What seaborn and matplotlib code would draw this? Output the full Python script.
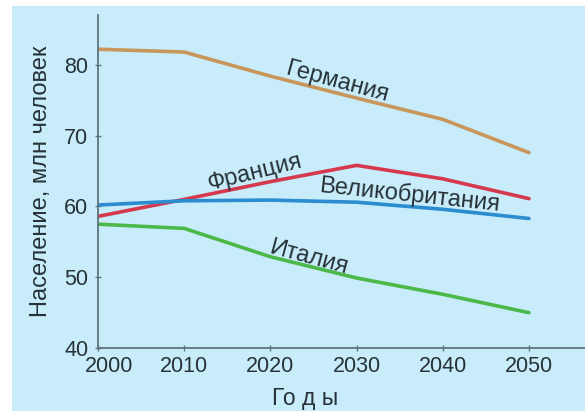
"""Население стран Европы, 2000-2050"""

import pandas as pd
import matplotlib
matplotlib.use("Agg")
import matplotlib.pyplot as plt
import matplotlib.transforms as mtransforms
import seaborn as sns

# data
years = [2000, 2010, 2020, 2030, 2040, 2050]
germany = [82.2, 81.8, 78.4, 75.3, 72.3, 67.6]
france = [58.6, 61.0, 63.5, 65.8, 63.9, 61.1]
britain = [60.2, 60.8, 60.9, 60.6, 59.6, 58.3]
italy = [57.5, 56.9, 52.9, 49.9, 47.6, 45.0]
countries = ["Германия", "Франция", "Великобритания", "Италия"]
y_ticks = [40, 50, 60, 70, 80]

colors = ["#c8965a", "#d6384e", "#2b8ccf", "#4cb848"]
bg = "#c9ecfa"
txt = "#263238"


def build_frame():
    rows = []
    for name, vals in zip(countries, [germany, france, britain, italy]):
        for yr, v in zip(years, vals):
            rows.append({"year": yr, "value": v, "country": name})
    return pd.DataFrame(rows)


if __name__ == "__main__":
    df = build_frame()

    sns.set_style("ticks")
    plt.rcParams["font.family"] = ["Liberation Sans", "DejaVu Sans"]

    fig = plt.figure(figsize=(5.85, 4.11), dpi=100)
    fig.patch.set_facecolor("white")
    # light blue panel with a thin white margin at top/left
    fig.patches.append(plt.Rectangle((0.02, 0), 0.98, 0.985, transform=fig.transFigure,
                                     facecolor=bg, edgecolor="none", zorder=-10))
    ax = fig.add_axes([0.1675, 0.153, 0.8325, 0.81])
    ax.set_facecolor(bg)

    sns.lineplot(data=df, x="year", y="value", hue="country",
                 palette=dict(zip(countries, colors)), linewidth=2.6,
                 legend=False, ax=ax)

    ax.set_xlim(2000, 2056.5)
    ax.set_ylim(40, 87)
    ax.set_xticks(years)
    ax.set_yticks(y_ticks)
    ax.tick_params(axis="both", labelsize=15.5, colors="#5d7380", labelcolor=txt,
                   direction="inout", length=4, width=1)
    ax.tick_params(axis="y", pad=5)
    sns.despine(ax=ax)
    for s in ["left", "bottom"]:
        ax.spines[s].set_color("#5d7380")
        ax.spines[s].set_linewidth(1.3)

    # first year label sits a bit to the right in the original
    first = ax.get_xticklabels()[0]
    first.set_transform(first.get_transform() +
                        mtransforms.ScaledTranslation(0.11, 0, fig.dpi_scale_trans))

    ax.set_xlabel("Го д ы", fontsize=16.5, color=txt)
    ax.xaxis.set_label_coords(0.425, -0.118)
    ax.set_ylabel("Население, млн человек", fontsize=17, color=txt)
    ax.yaxis.set_label_coords(-0.095, 0.5)

    # labels on the lines
    ax.text(2027.7, 77.5, "Германия", rotation=-15, fontsize=17, color=txt,
            ha="center", va="center")
    ax.text(2018.2, 64.8, "Франция", rotation=14, fontsize=17, color=txt,
            ha="center", va="center")
    ax.text(2036.2, 61.6, "Великобритания", rotation=-6, fontsize=17, color=txt,
            ha="center", va="center")
    ax.text(2024.4, 52.8, "Италия", rotation=-15, fontsize=17, color=txt,
            ha="center", va="center")

    fig.savefig("out.png", dpi=100, facecolor=fig.get_facecolor())
